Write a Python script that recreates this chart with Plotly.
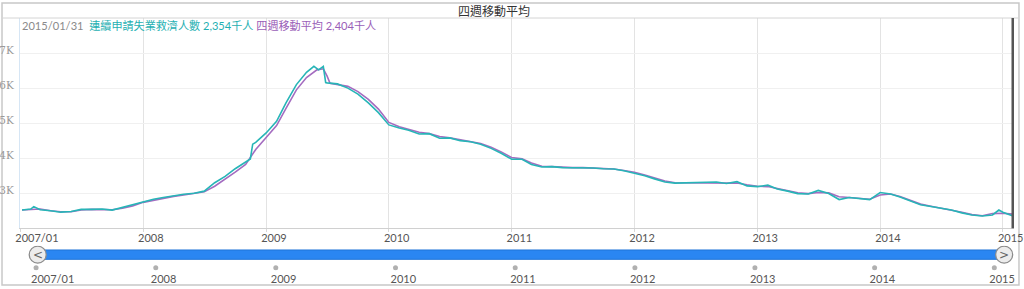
import plotly.graph_objects as go

# ---------------- data (thousands of persons) ----------------
claim_dates = [
    "2007-01-06", "2007-02-01", "2007-02-10", "2007-03-01", "2007-04-01", "2007-05-01", "2007-06-01",
    "2007-07-01", "2007-08-01", "2007-09-01", "2007-10-01", "2007-11-01", "2007-12-01",
    "2008-01-01", "2008-02-01", "2008-03-01", "2008-04-01", "2008-05-01", "2008-06-01",
    "2008-07-01", "2008-08-01", "2008-09-01", "2008-10-01", "2008-11-01", "2008-11-15",
    "2008-11-22", "2008-12-01",
    "2009-01-01", "2009-02-01", "2009-03-01", "2009-04-01", "2009-05-01", "2009-05-23",
    "2009-06-06", "2009-06-20", "2009-06-27", "2009-07-01", "2009-08-01", "2009-09-01",
    "2009-10-01", "2009-11-01", "2009-12-01",
    "2010-01-01", "2010-02-01", "2010-03-01", "2010-04-01", "2010-05-01", "2010-06-01",
    "2010-07-01", "2010-08-01", "2010-09-01", "2010-10-01", "2010-11-01", "2010-12-01",
    "2011-01-01", "2011-02-01", "2011-03-01", "2011-04-01", "2011-05-01", "2011-06-01",
    "2011-07-01", "2011-08-01", "2011-09-01", "2011-10-01", "2011-11-01", "2011-12-01",
    "2012-01-01", "2012-02-01", "2012-03-01", "2012-04-01", "2012-05-01", "2012-06-01",
    "2012-07-01", "2012-08-01", "2012-09-01", "2012-10-01", "2012-11-01", "2012-12-01",
    "2013-01-01", "2013-02-01", "2013-03-01", "2013-04-01", "2013-05-01", "2013-06-01",
    "2013-07-01", "2013-08-01", "2013-09-01", "2013-10-01", "2013-11-01", "2013-12-01",
    "2014-01-01", "2014-02-01", "2014-03-01", "2014-04-01", "2014-05-01", "2014-06-01",
    "2014-07-01", "2014-08-01", "2014-09-01", "2014-10-01", "2014-11-01", "2014-12-01",
    "2014-12-20", "2015-01-01", "2015-01-31",
]
claim_values = [
    2520, 2550, 2620, 2530, 2500, 2460, 2480,
    2540, 2540, 2550, 2520, 2600, 2670,
    2770, 2830, 2880, 2930, 2970, 3000,
    3060, 3300, 3480, 3700, 3900, 3980,
    4400, 4450,
    4720, 5050, 5580, 6100, 6450, 6620,
    6520, 6620, 6160, 6150, 6120, 6000,
    5830, 5580, 5300,
    4950, 4860, 4800, 4690, 4700, 4570,
    4580, 4500, 4470, 4400, 4280, 4140,
    3970, 3970, 3820, 3750, 3760, 3730,
    3730, 3730, 3720, 3700, 3690, 3640,
    3580, 3500, 3410, 3320, 3290, 3300,
    3310, 3310, 3320, 3280, 3330, 3210,
    3190, 3230, 3120, 3060, 2990, 2980,
    3080, 2990, 2820, 2880, 2840, 2820,
    3020, 2980, 2890, 2770, 2670, 2620,
    2580, 2520, 2440, 2380, 2350, 2380,
    2520, 2460, 2354,
]

ma_dates = [
    "2007-01-06", "2007-02-01", "2007-03-01", "2007-04-01", "2007-05-01", "2007-06-01",
    "2007-07-01", "2007-08-01", "2007-09-01", "2007-10-01", "2007-11-01", "2007-12-01",
    "2008-01-01", "2008-02-01", "2008-03-01", "2008-04-01", "2008-05-01", "2008-06-01",
    "2008-07-01", "2008-08-01", "2008-09-01", "2008-10-01", "2008-11-01", "2008-12-01",
    "2009-01-01", "2009-02-01", "2009-03-01", "2009-04-01", "2009-05-01", "2009-06-01",
    "2009-06-20", "2009-07-01", "2009-07-10", "2009-08-01", "2009-09-01", "2009-10-01",
    "2009-11-01", "2009-12-01",
    "2010-01-01", "2010-02-01", "2010-03-01", "2010-04-01", "2010-05-01", "2010-06-01",
    "2010-07-01", "2010-08-01", "2010-09-01", "2010-10-01", "2010-11-01", "2010-12-01",
    "2011-01-01", "2011-02-01", "2011-03-01", "2011-04-01", "2011-05-01", "2011-06-01",
    "2011-07-01", "2011-08-01", "2011-09-01", "2011-10-01", "2011-11-01", "2011-12-01",
    "2012-01-01", "2012-02-01", "2012-03-01", "2012-04-01", "2012-05-01", "2012-06-01",
    "2012-07-01", "2012-08-01", "2012-09-01", "2012-10-01", "2012-11-01", "2012-12-01",
    "2013-01-01", "2013-02-01", "2013-03-01", "2013-04-01", "2013-05-01", "2013-06-01",
    "2013-07-01", "2013-08-01", "2013-09-01", "2013-10-01", "2013-11-01", "2013-12-01",
    "2014-01-01", "2014-02-01", "2014-03-01", "2014-04-01", "2014-05-01", "2014-06-01",
    "2014-07-01", "2014-08-01", "2014-09-01", "2014-10-01", "2014-11-01", "2014-12-01",
    "2015-01-01", "2015-01-31",
]
ma_values = [
    2520, 2540, 2550, 2500, 2470, 2470,
    2520, 2540, 2540, 2530, 2570, 2640,
    2740, 2800, 2860, 2910, 2950, 2990,
    3040, 3200, 3400, 3600, 3820, 4250,
    4590, 4930, 5420, 5950, 6300, 6520,
    6550, 6350, 6140, 6100, 6050, 5900,
    5680, 5400,
    5020, 4900, 4820, 4740, 4700, 4620,
    4580, 4520, 4480, 4420, 4310, 4180,
    4020, 3980, 3860, 3770, 3760, 3740,
    3730, 3730, 3720, 3710, 3690, 3650,
    3600, 3520, 3430, 3350, 3300, 3300,
    3310, 3310, 3310, 3300, 3290, 3240,
    3200, 3190, 3140, 3080, 3010, 2990,
    3020, 3010, 2900, 2880, 2850, 2830,
    2950, 2980, 2910, 2800, 2690, 2630,
    2580, 2530, 2460, 2390, 2360, 2420,
    2430, 2404,
]

y_ticks = [3000, 4000, 5000, 6000, 7000]
y_tick_labels = ["3K", "4K", "5K", "6K", "7K"]
year_ticks = ["2007-01-01", "2008-01-01", "2009-01-01", "2010-01-01", "2011-01-01",
              "2012-01-01", "2013-01-01", "2014-01-01", "2015-01-01"]
year_labels = ["2007/01", "2008", "2009", "2010", "2011", "2012", "2013", "2014", "2015"]

series_name = "連續申請失業救濟人數"
ma_name = "四週移動平均"
current_date = "2015/01/31"

TEAL = "#27b5b7"
PURPLE = "#a46cc0"
GRAY_TXT = "#8a8a8a"

fig = go.Figure()

fig.add_trace(go.Scatter(x=ma_dates, y=ma_values, mode="lines", name=ma_name,
                         line=dict(color=PURPLE, width=1.6), hoverinfo="skip"))
fig.add_trace(go.Scatter(x=claim_dates, y=claim_values, mode="lines", name=series_name,
                         line=dict(color=TEAL, width=1.6), hoverinfo="skip"))

# slider dots (lower axis)
fig.add_trace(go.Scatter(x=year_ticks, y=[0.12] * len(year_ticks), mode="markers",
                         xaxis="x2", yaxis="y2", marker=dict(color="#b0b0b0", size=5),
                         hoverinfo="skip", showlegend=False))

fig.update_layout(
    width=1024, height=289,
    margin=dict(l=20, r=10, t=18, b=0),
    paper_bgcolor="white", plot_bgcolor="white",
    showlegend=False,
    font=dict(family="Lato, 'Noto Sans CJK TC', sans-serif", size=11, color="#555"),
    xaxis=dict(
        type="date", domain=[0, 1], anchor="y",
        range=["2006-12-31", "2015-02-03"],
        tickvals=year_ticks, ticktext=year_labels,
        ticklabelposition="outside right", ticklabelshift=-6,
        ticklabeloverflow="allow",
        ticks="outside", ticklen=3, tickcolor="#d8d8d8",
        showgrid=True, gridcolor="#e3e3e3", gridwidth=1,
        showline=True, linecolor="#d0d0d0", linewidth=1,
        zeroline=False,
        tickfont=dict(family="Lato, sans-serif", size=11, color="#555"),
    ),
    yaxis=dict(
        domain=[0.224, 1], anchor="x",
        range=[2000, 8000],
        tickvals=y_ticks, ticktext=y_tick_labels,
        ticklabelshift=-3, ticklabelstandoff=3,
        showgrid=True, gridcolor="#f0f0f0", gridwidth=1,
        showline=True, linecolor="#d6e6f5", linewidth=1,
        zeroline=False,
        tickfont=dict(family="'DejaVu Serif', serif", size=10.5, color="#999999"),
    ),
    xaxis2=dict(
        type="date", domain=[0, 1], anchor="y2",
        range=["2006-11-13", "2015-03-02"],
        tickvals=year_ticks, ticktext=year_labels,
        ticklabelposition="outside right", ticklabelshift=-5,
        ticklabeloverflow="allow",
        ticks="", showgrid=False, showline=False, zeroline=False,
        tickfont=dict(family="Lato, sans-serif", size=11, color="#555"),
    ),
    yaxis2=dict(domain=[0.0675, 0.1598], anchor="x2", range=[0, 1],
                visible=False, fixedrange=True),
)

shapes = []
# outer frame
shapes.append(dict(type="rect", xref="paper", yref="paper",
                   x0=-0.0181, x1=1.005, y0=0.0148, y1=1.0554,
                   line=dict(color="#c8c8c8", width=1.5), fillcolor="rgba(0,0,0,0)", layer="below"))
# header separator
shapes.append(dict(type="line", xref="paper", yref="paper", x0=-0.0181, x1=1.005, y0=1, y1=1,
                   line=dict(color="#d4d4d4", width=1)))
# current-date cursor
shapes.append(dict(type="line", xref="x", yref="y domain", x0=claim_dates[-1], x1=claim_dates[-1],
                   y0=0, y1=1, line=dict(color="#555555", width=3)))
# slider bar
shapes.append(dict(type="rect", xref="x2", yref="y2", x0=claim_dates[0], x1=claim_dates[-1],
                   y0=0.456, y1=0.828, line=dict(color="#1f74d8", width=1), fillcolor="#2a86f2"))
# slider handles
for d in (claim_dates[0], claim_dates[-1]):
    shapes.append(dict(type="circle", xref="x2", yref="y2", xsizemode="pixel", ysizemode="pixel",
                       xanchor=d, yanchor=0.642, x0=-8.5, x1=8.5, y0=-8.5, y1=8.5,
                       line=dict(color="#8c8c8c", width=1.3), fillcolor="#ececec"))
fig.update_layout(shapes=shapes)

annotations = [
    dict(xref="paper", yref="paper", x=0.477, y=1.026, xanchor="center", yanchor="middle",
         text=ma_name, showarrow=False,
         font=dict(family="'Noto Sans CJK TC', sans-serif", size=12, color="#333")),
    dict(xref="paper", yref="paper", x=0.0, y=0.974, xanchor="left", yanchor="middle",
         text=(f"<span style='color:{GRAY_TXT}'>{current_date}</span>  "
               f"<span style='color:#1fb0b2'>{series_name} {claim_values[-1]:,}千人</span> "
               f"<span style='color:#9a5eb8'>{ma_name} {ma_values[-1]:,}千人</span>"),
         showarrow=False,
         font=dict(family="Lato, 'Noto Sans CJK TC', sans-serif", size=11.1)),
]
for d, sym in ((claim_dates[0], "<"), (claim_dates[-1], ">")):
    annotations.append(dict(xref="x2", yref="y2", x=d, y=0.642, xanchor="center", yanchor="middle",
                            text=sym, showarrow=False,
                            font=dict(family="DejaVu Sans, sans-serif", size=12, color="#666")))
fig.update_layout(annotations=annotations)

fig.write_html("out.html")
